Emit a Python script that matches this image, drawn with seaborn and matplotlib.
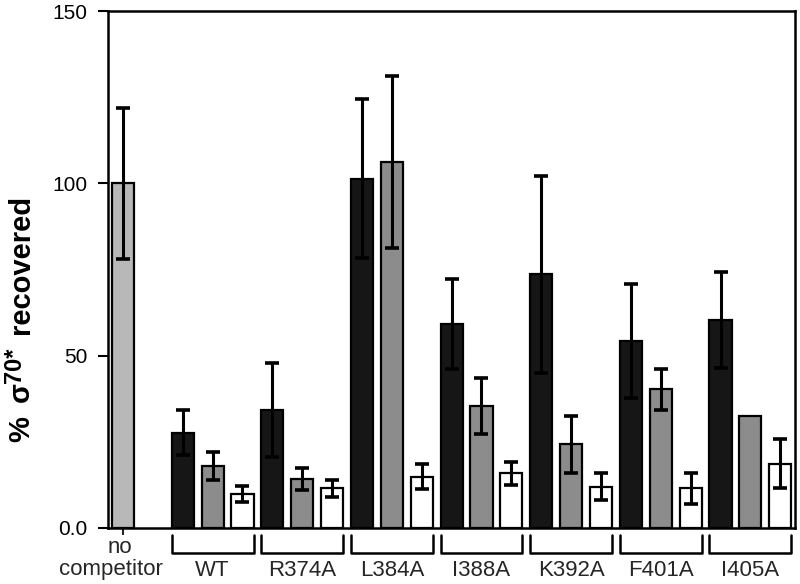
import numpy as np
import pandas as pd
import matplotlib
matplotlib.use("Agg")
import matplotlib.pyplot as plt
import matplotlib.transforms as mtransforms
import seaborn as sns

# values (% sigma70* recovered)
groups = ["WT", "R374A", "L384A", "I388A", "K392A", "F401A", "I405A"]
black_vals = [27.7, 34.2, 101.4, 59.2, 73.7, 54.2, 60.3]
black_err = [6.5, 13.6, 23.0, 13.2, 28.6, 16.6, 13.9]
gray_vals = [18.0, 14.3, 106.3, 35.4, 24.3, 40.2, 32.6]
gray_err = [4.1, 3.2, 25.0, 8.0, 8.2, 6.0, 0.0]
white_vals = [9.9, 11.5, 14.9, 15.9, 12.0, 11.5, 18.6]
white_err = [2.3, 2.5, 3.6, 3.3, 4.0, 4.5, 7.1]
nocomp_val = 100.0
nocomp_err = 22.0

sns.set_theme(style="ticks")
plt.rcParams["font.family"] = ["Liberation Sans", "DejaVu Sans"]

# slot 0 = no competitor, slot 1 empty, then 3 bars per group
rows = [{"slot": 0, "val": nocomp_val, "err": nocomp_err, "kind": "none"}]
for i, g in enumerate(groups):
    s = 2 + 3 * i
    rows.append({"slot": s, "val": black_vals[i], "err": black_err[i], "kind": "black"})
    rows.append({"slot": s + 1, "val": gray_vals[i], "err": gray_err[i], "kind": "gray"})
    rows.append({"slot": s + 2, "val": white_vals[i], "err": white_err[i], "kind": "white"})
df = pd.DataFrame(rows)

colors = {"none": "#b8b8b8", "black": "#161616", "gray": "#8c8c8c", "white": "#ffffff"}
pal = {r.slot: colors[r.kind] for r in df.itertuples()}

fig = plt.figure(figsize=(8, 5.84), dpi=100)
ax = fig.add_axes([0.135, 0.0959, 0.859, 0.885])

n_slots = 2 + 3 * len(groups)
sns.barplot(data=df, x="slot", y="val", hue="slot", palette=pal, order=list(range(n_slots)),
            legend=False, width=0.74, edgecolor="black", linewidth=1.6, errorbar=None,
            saturation=1, ax=ax)

e = df[df.err > 0]
ax.errorbar(e.slot, e.val, yerr=e.err, fmt="none", ecolor="black", elinewidth=2.2,
            capsize=5, capthick=2.6, zorder=5)

ax.set_xlim(-0.5, n_slots - 0.5)
ax.set_ylim(0, 150)
ax.set_yticks([0, 50, 100, 150])
ax.set_yticklabels(["0.0", "50", "100", "150"])
ax.set_xticks([0])
ax.set_xticklabels([""])
ax.tick_params(axis="y", direction="out", length=7.5, width=1.5, pad=7, labelsize=15, colors="black")
ax.tick_params(axis="x", direction="out", length=5, width=1.5)
for sp in ax.spines.values():
    sp.set_visible(True)
    sp.set_linewidth(1.8)
    sp.set_color("black")
ax.set_xlabel("")
ax.set_ylabel("")

# y label built from pieces so the superscript keeps its size
W, H = 800, 584
lab = dict(rotation=90, rotation_mode="anchor", ha="left", va="baseline",
           fontweight="bold", color="black")
fig.text(29 / W, 1 - 442 / H, "%", fontsize=21, **lab)
fig.text(29 / W, 1 - 402 / H, "σ", fontsize=21, **lab)
fig.text(21 / W, 1 - 383 / H, "70*", fontsize=17, **lab)
fig.text(29 / W, 1 - 334 / H, "recovered", fontsize=21, **lab)

trans = mtransforms.blended_transform_factory(ax.transData, ax.transAxes)
for i, g in enumerate(groups):
    s = 2 + 3 * i
    x0, x1 = s - 0.37, s + 2.37
    ax.plot([x0, x0, x1, x1], [-0.0135, -0.048, -0.048, -0.0135], color="black", lw=1.8,
            transform=trans, clip_on=False)
    ax.text(s + 1, -0.093, g, transform=trans, ha="center", va="baseline", fontsize=16)
ax.text(-0.1, -0.049, "no", transform=trans, ha="center", va="baseline", fontsize=16)
ax.text(-0.4, -0.091, "competitor", transform=trans, ha="center", va="baseline", fontsize=16)

fig.savefig("out.png", dpi=100, facecolor="white")
